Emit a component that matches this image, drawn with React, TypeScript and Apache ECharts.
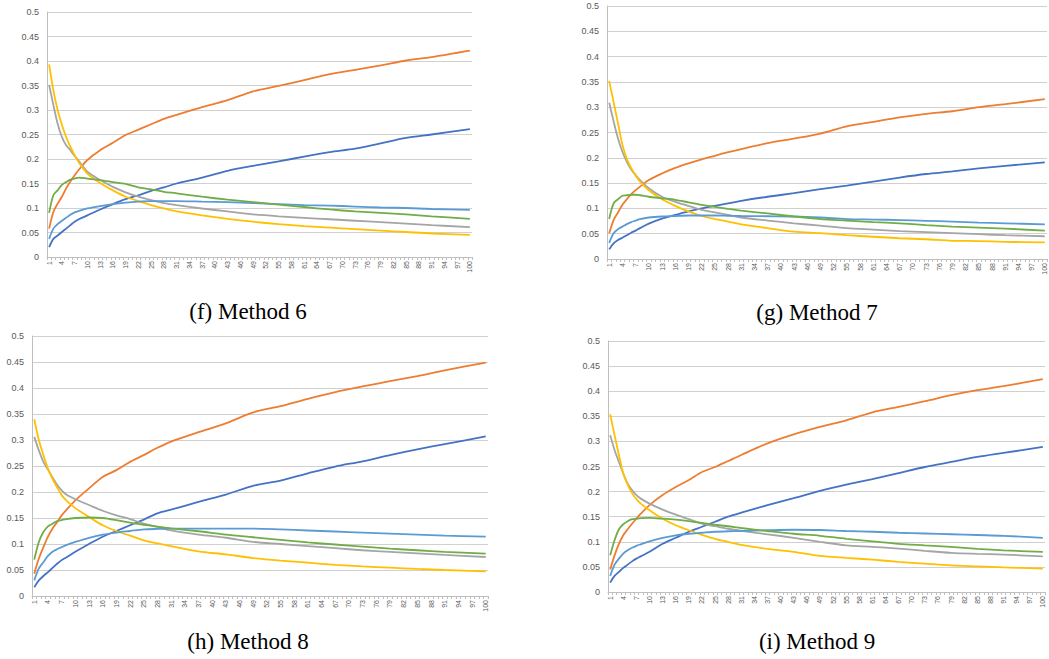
import React, { useEffect, useRef } from "react";
import * as echarts from "echarts";

// Category axis: runs 1..100
const CATEGORIES: string[] = Array.from({ length: 100 }, (_, i) => String(i + 1));
const X_SAMPLES = [1, 2, 3, 4, 5, 6, 7, 8, 10, 13, 16, 19, 22, 25, 28, 31, 37, 43, 49, 55, 61, 67, 73, 79, 85, 91, 100];

const SERIES_NAMES = ["Series1", "Series2", "Series3", "Series4", "Series5", "Series6"];
const SERIES_COLORS = ["#4472C4", "#ED7D31", "#A5A5A5", "#FFC000", "#5B9BD5", "#70AD47"];
const CAPTIONS = ["(f) Method 6", "(g) Method 7", "(h) Method 8", "(i) Method 9"];

// ---- (f) Method 6 ----
const F_S1 = [0.020, 0.037, 0.044, 0.051, 0.058, 0.065, 0.072, 0.077, 0.085, 0.097, 0.108, 0.118, 0.126, 0.135, 0.142, 0.150, 0.162, 0.176, 0.186, 0.195, 0.205, 0.214, 0.221, 0.232, 0.243, 0.250, 0.261];
const F_S2 = [0.058, 0.092, 0.109, 0.123, 0.140, 0.154, 0.167, 0.178, 0.198, 0.218, 0.233, 0.249, 0.260, 0.271, 0.282, 0.290, 0.306, 0.320, 0.338, 0.349, 0.361, 0.373, 0.382, 0.391, 0.401, 0.408, 0.421];
const F_S3 = [0.351, 0.310, 0.272, 0.245, 0.228, 0.218, 0.206, 0.196, 0.174, 0.157, 0.143, 0.132, 0.123, 0.116, 0.110, 0.106, 0.099, 0.093, 0.087, 0.083, 0.080, 0.077, 0.074, 0.071, 0.068, 0.065, 0.061];
const F_S4 = [0.393, 0.340, 0.300, 0.270, 0.245, 0.225, 0.208, 0.193, 0.170, 0.151, 0.136, 0.123, 0.114, 0.106, 0.099, 0.093, 0.085, 0.078, 0.072, 0.067, 0.063, 0.060, 0.057, 0.054, 0.051, 0.048, 0.045];
const F_S5 = [0.037, 0.058, 0.067, 0.074, 0.080, 0.086, 0.091, 0.094, 0.099, 0.104, 0.108, 0.111, 0.113, 0.114, 0.114, 0.114, 0.113, 0.112, 0.110, 0.108, 0.106, 0.105, 0.103, 0.101, 0.100, 0.098, 0.096];
const F_S6 = [0.090, 0.126, 0.136, 0.147, 0.153, 0.158, 0.160, 0.162, 0.160, 0.157, 0.153, 0.149, 0.142, 0.138, 0.133, 0.130, 0.123, 0.117, 0.112, 0.107, 0.102, 0.097, 0.093, 0.090, 0.087, 0.083, 0.078];

// ---- (g) Method 7 ----
const G_S1 = [0.019, 0.031, 0.0375, 0.042, 0.047, 0.052, 0.056, 0.061, 0.070, 0.080, 0.087, 0.094, 0.100, 0.105, 0.110, 0.115, 0.123, 0.130, 0.138, 0.145, 0.153, 0.161, 0.168, 0.173, 0.179, 0.184, 0.191];
const G_S2 = [0.051, 0.077, 0.092, 0.107, 0.118, 0.128, 0.136, 0.143, 0.156, 0.169, 0.180, 0.189, 0.197, 0.204, 0.211, 0.217, 0.229, 0.238, 0.248, 0.262, 0.271, 0.280, 0.287, 0.292, 0.300, 0.306, 0.316];
const G_S3 = [0.309, 0.272, 0.238, 0.212, 0.192, 0.177, 0.166, 0.156, 0.140, 0.123, 0.113, 0.105, 0.097, 0.092, 0.087, 0.082, 0.076, 0.0705, 0.066, 0.061, 0.058, 0.055, 0.053, 0.051, 0.049, 0.047, 0.045];
const G_S4 = [0.352, 0.310, 0.268, 0.226, 0.198, 0.180, 0.165, 0.153, 0.136, 0.118, 0.105, 0.094, 0.085, 0.079, 0.074, 0.0685, 0.061, 0.054, 0.051, 0.047, 0.044, 0.041, 0.039, 0.036, 0.0355, 0.034, 0.033];
const G_S5 = [0.032, 0.051, 0.059, 0.064, 0.069, 0.073, 0.076, 0.079, 0.082, 0.084, 0.085, 0.086, 0.086, 0.086, 0.0855, 0.085, 0.0845, 0.084, 0.082, 0.079, 0.078, 0.077, 0.0755, 0.074, 0.072, 0.0705, 0.0685];
const G_S6 = [0.079, 0.110, 0.118, 0.125, 0.126, 0.127, 0.127, 0.126, 0.123, 0.120, 0.117, 0.112, 0.107, 0.103, 0.099, 0.0955, 0.090, 0.084, 0.079, 0.076, 0.073, 0.0705, 0.067, 0.064, 0.062, 0.060, 0.056];

// ---- (h) Method 8 ----
const H_S1 = [0.017, 0.030, 0.0385, 0.046, 0.054, 0.062, 0.069, 0.074, 0.085, 0.100, 0.114, 0.125, 0.136, 0.147, 0.159, 0.166, 0.181, 0.195, 0.212, 0.222, 0.236, 0.249, 0.259, 0.271, 0.282, 0.292, 0.307];
const H_S2 = [0.043, 0.072, 0.094, 0.114, 0.130, 0.142, 0.155, 0.165, 0.184, 0.207, 0.229, 0.242, 0.258, 0.271, 0.285, 0.297, 0.315, 0.332, 0.353, 0.365, 0.379, 0.392, 0.403, 0.413, 0.423, 0.434, 0.449];
const H_S3 = [0.306, 0.280, 0.258, 0.243, 0.228, 0.214, 0.203, 0.195, 0.186, 0.175, 0.164, 0.155, 0.148, 0.139, 0.133, 0.126, 0.118, 0.112, 0.104, 0.100, 0.096, 0.092, 0.088, 0.085, 0.082, 0.079, 0.075];
const H_S4 = [0.340, 0.300, 0.271, 0.245, 0.225, 0.209, 0.194, 0.184, 0.169, 0.152, 0.136, 0.125, 0.116, 0.107, 0.101, 0.096, 0.086, 0.080, 0.073, 0.068, 0.064, 0.060, 0.057, 0.0545, 0.052, 0.050, 0.0475];
const H_S5 = [0.030, 0.053, 0.065, 0.077, 0.085, 0.090, 0.094, 0.098, 0.104, 0.112, 0.118, 0.122, 0.125, 0.128, 0.129, 0.1295, 0.1295, 0.1295, 0.1295, 0.128, 0.126, 0.124, 0.122, 0.120, 0.118, 0.116, 0.114];
const H_S6 = [0.070, 0.104, 0.123, 0.134, 0.139, 0.144, 0.146, 0.148, 0.150, 0.151, 0.150, 0.146, 0.141, 0.137, 0.1335, 0.130, 0.1245, 0.118, 0.113, 0.108, 0.103, 0.099, 0.095, 0.091, 0.088, 0.085, 0.0815];

// ---- (i) Method 9 ----
const I_S1 = [0.0186, 0.032, 0.040, 0.048, 0.0545, 0.061, 0.0665, 0.071, 0.080, 0.096, 0.108, 0.120, 0.130, 0.140, 0.150, 0.158, 0.173, 0.187, 0.2015, 0.214, 0.225, 0.237, 0.249, 0.259, 0.269, 0.277, 0.289];
const I_S2 = [0.045, 0.073, 0.096, 0.113, 0.125, 0.136, 0.146, 0.156, 0.173, 0.193, 0.209, 0.223, 0.239, 0.249, 0.261, 0.273, 0.296, 0.314, 0.329, 0.342, 0.358, 0.369, 0.380, 0.392, 0.402, 0.410, 0.424];
const I_S3 = [0.3125, 0.283, 0.259, 0.236, 0.216, 0.203, 0.193, 0.186, 0.176, 0.164, 0.154, 0.145, 0.136, 0.131, 0.126, 0.122, 0.115, 0.108, 0.100, 0.093, 0.090, 0.0865, 0.082, 0.078, 0.076, 0.0745, 0.071];
const I_S4 = [0.354, 0.3125, 0.273, 0.236, 0.214, 0.197, 0.185, 0.176, 0.163, 0.146, 0.133, 0.123, 0.114, 0.106, 0.100, 0.094, 0.086, 0.080, 0.072, 0.068, 0.0645, 0.060, 0.0565, 0.053, 0.051, 0.049, 0.0465];
const I_S5 = [0.032, 0.0545, 0.0665, 0.0765, 0.083, 0.088, 0.092, 0.095, 0.101, 0.108, 0.113, 0.116, 0.118, 0.120, 0.121, 0.1215, 0.123, 0.124, 0.1235, 0.1215, 0.120, 0.118, 0.1165, 0.115, 0.1135, 0.112, 0.108];
const I_S6 = [0.073, 0.103, 0.125, 0.135, 0.141, 0.145, 0.146, 0.147, 0.1475, 0.146, 0.144, 0.141, 0.1375, 0.134, 0.131, 0.1275, 0.1215, 0.116, 0.112, 0.106, 0.101, 0.096, 0.093, 0.090, 0.086, 0.083, 0.080];

const PANEL_DATA = [
  [F_S1, F_S2, F_S3, F_S4, F_S5, F_S6],
  [G_S1, G_S2, G_S3, G_S4, G_S5, G_S6],
  [H_S1, H_S2, H_S3, H_S4, H_S5, H_S6],
  [I_S1, I_S2, I_S3, I_S4, I_S5, I_S6],
];

// Layout (pixels)
const GRIDS = [
  { left: 47, top: 12, width: 425, height: 245 },
  { left: 607, top: 6, width: 440, height: 253 },
  { left: 32, top: 336, width: 456, height: 260 },
  { left: 608, top: 341, width: 437, height: 251 },
];
const CAPTION_POS = [
  [248, 311],
  [817, 312],
  [248, 641],
  [817, 641],
];

export default function App() {
  const ref = useRef<HTMLDivElement>(null);

  useEffect(() => {
    if (!ref.current) return;
    const chart = echarts.init(ref.current, null, { renderer: "svg" });
    const labelColor = "#595959";
    const font = "'Liberation Sans', Arial, sans-serif";

    const xAxis = GRIDS.map((_, gi) => ({
      type: "category",
      gridIndex: gi,
      data: CATEGORIES,
      boundaryGap: true,
      axisLine: { show: true, lineStyle: { color: "#bfbfbf", width: 1 } },
      axisTick: { show: true, interval: 0, length: 3, lineStyle: { color: "#bfbfbf" } },
      axisLabel: {
        interval: 2,
        rotate: 90,
        fontSize: 7,
        color: labelColor,
        fontFamily: font,
        margin: 4,
      },
      splitLine: { show: false },
    }));

    const yAxis = GRIDS.map((_, gi) => ({
      type: "value",
      gridIndex: gi,
      min: 0,
      max: 0.5,
      interval: 0.05,
      axisLine: { show: true, lineStyle: { color: "#bfbfbf", width: 1 } },
      axisTick: { show: false },
      axisLabel: {
        fontSize: 9,
        color: labelColor,
        fontFamily: font,
        margin: 8,
        formatter: (v: number) => String(Math.round(v * 100) / 100),
      },
      splitLine: { show: true, lineStyle: { color: "#d0d0d0", width: 1 } },
    }));

    const series: any[] = [];
    PANEL_DATA.forEach((panel, gi) => {
      panel.forEach((vals, si) => {
        series.push({
          type: "line",
          name: SERIES_NAMES[si],
          xAxisIndex: gi,
          yAxisIndex: gi,
          data: X_SAMPLES.map((x, k) => [String(x), vals[k]]),
          showSymbol: false,
          symbol: "none",
          smooth: 0.3,
          lineStyle: { color: SERIES_COLORS[si], width: 1.8 },
          itemStyle: { color: SERIES_COLORS[si] },
          z: 2 + si,
        });
      });
    });

    const graphic = CAPTIONS.map((t, i) => ({
      type: "text",
      x: CAPTION_POS[i][0],
      y: CAPTION_POS[i][1],
      style: {
        text: t,
        fill: "#000000",
        font: "23px 'Liberation Serif', 'Times New Roman', serif",
        align: "center",
        verticalAlign: "middle",
      },
    }));

    chart.setOption({
      animation: false,
      backgroundColor: "#ffffff",
      grid: GRIDS.map((g) => ({ ...g, containLabel: false })),
      xAxis,
      yAxis,
      series,
      graphic,
    } as any);

    return () => chart.dispose();
  }, []);

  return (
    <div
      ref={ref}
      style={{ position: "absolute", left: 0, top: 0, width: 1049, height: 659 }}
    />
  );
}
